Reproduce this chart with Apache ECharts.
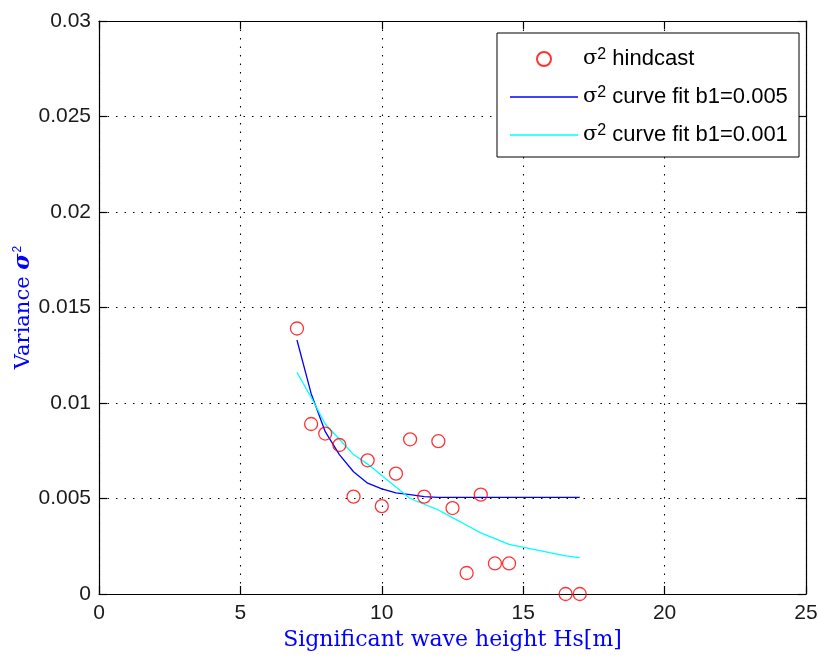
<!DOCTYPE html>
<html><head><meta charset="utf-8">
<script src="https://cdn.jsdelivr.net/npm/echarts@6/dist/echarts.min.js"></script>
<style>html,body{margin:0;padding:0;background:#fff}#c{width:818px;height:658px}</style>
</head><body><div id="c"></div>
<script>
const hsHindcast = [7, 7.5, 8, 8.5, 9, 9.5, 10, 10.5, 11, 11.5, 12, 12.5, 13, 13.5, 14, 14.5, 16.5, 17];
const varHindcast = [0.0139, 0.0089, 0.0084, 0.0078, 0.0051, 0.0070, 0.0046, 0.0063, 0.0081, 0.0051, 0.0080, 0.0045, 0.0011, 0.0052, 0.0016, 0.0016, 0, 0];
const varFitB005 = [0.0133, 0.0105, 0.0085, 0.0073, 0.0064, 0.0058, 0.0055, 0.0053, 0.0052, 0.0051, 0.00506, 0.00506, 0.00506, 0.00506, 0.00506, 0.00506, 0.00506, 0.00506];
const varFitB001 = [0.0116, 0.0103, 0.0089, 0.0081, 0.0073, 0.0068, 0.0062, 0.0056, 0.0050, 0.0047, 0.0044, 0.0040, 0.0036, 0.0032, 0.0029, 0.0026, 0.0020, 0.0019];
const xTickLabels = ['0', '5', '10', '15', '20', '25'];
const yTickLabels = ['0', '0.005', '0.01', '0.015', '0.02', '0.025', '0.03'];
const seriesNames = ['hindcast', 'curve fit b1=0.005', 'curve fit b1=0.001'];

const pair = (xs, ys) => xs.map((x, i) => [x, ys[i]]);

const chart = echarts.init(document.getElementById('c'), null, {renderer: 'canvas'});
const gridLine = () => ({show: true, lineStyle: {color: '#000', width: 1.1, type: [1.5, 7]}});
const axLine = () => ({show: true, onZero: false, lineStyle: {color: '#000', width: 1.2}});
const tick = () => ({show: true, inside: true, length: 8, lineStyle: {color: '#000', width: 1.2}});
const labelStyle = () => ({color: '#1a1a1a', fontFamily: 'Liberation Sans', fontSize: 21});
const lineIcon = 'path://M0,0H68V1.4H0Z';

chart.setOption({
  backgroundColor: '#fff',
  animation: false,
  grid: {left: 99, right: 12, top: 21, bottom: 64, containLabel: false, outerBoundsMode: 'none'},
  xAxis: [{
    type: 'value', min: 0, max: 25, interval: 5, position: 'bottom',
    axisLine: axLine(), axisTick: tick(), splitLine: gridLine(),
    axisLabel: Object.assign({margin: 9, formatter: (v, i) => xTickLabels[i]}, labelStyle()),
    name: 'Significant wave height Hs[m]', nameLocation: 'middle', nameGap: 35, nameMoveOverlap: false,
    nameTextStyle: {color: '#0000ff', fontFamily: 'DejaVu Serif', fontSize: 22}
  }, {
    type: 'value', min: 0, max: 25, interval: 5, position: 'top',
    axisLine: axLine(), axisTick: tick(), splitLine: {show: false}, axisLabel: {show: false}
  }],
  yAxis: [{
    type: 'value', min: 0, max: 0.03, interval: 0.005, position: 'left',
    axisLine: axLine(), axisTick: tick(), splitLine: gridLine(),
    axisLabel: Object.assign({margin: 8, formatter: (v, i) => yTickLabels[i]}, labelStyle()),
    name: '{t|Variance }{s|σ}{sup|2}', nameLocation: 'middle', nameGap: 64, nameRotate: 90, nameMoveOverlap: false,
    nameTextStyle: {
      color: '#0000ff', fontFamily: 'DejaVu Serif', fontSize: 21,
      rich: {
        t: {color: '#0000ff', fontFamily: 'DejaVu Serif', fontSize: 21},
        s: {color: '#0000ff', fontFamily: 'DejaVu Serif', fontWeight: 'bold', fontStyle: 'italic', fontSize: 22},
        sup: {color: '#0000ff', fontFamily: 'Liberation Sans', fontSize: 12, verticalAlign: 'bottom', padding: [0, 0, 11, 1]}
      }
    }
  }, {
    type: 'value', min: 0, max: 0.03, interval: 0.005, position: 'right',
    axisLine: axLine(), axisTick: tick(), splitLine: {show: false}, axisLabel: {show: false}
  }],
  legend: {
    orient: 'vertical', left: 497, top: 33,
    padding: [14, 8, 10, 13],
    itemWidth: 68, itemHeight: 14, itemGap: 14,
    backgroundColor: '#fff', borderColor: '#000', borderWidth: 1,
    data: [
      {name: seriesNames[0]},
      {name: seriesNames[1], icon: lineIcon},
      {name: seriesNames[2], icon: lineIcon}
    ],
    formatter: n => '{s|σ}{sup|2}{t| ' + n + '}',
    textStyle: {
      color: '#000', fontFamily: 'Liberation Sans', fontSize: 22, width: 208, lineHeight: 24,
      rich: {
        s: {fontFamily: 'DejaVu Serif', fontSize: 21, color: '#000'},
        sup: {fontFamily: 'Liberation Sans', fontSize: 16, color: '#000', verticalAlign: 'bottom', padding: [0, 0, 8, 0]},
        t: {fontFamily: 'Liberation Sans', fontSize: 22, color: '#000'}
      }
    }
  },
  series: [{
    name: seriesNames[0], type: 'scatter', data: pair(hsHindcast, varHindcast),
    symbol: 'circle', symbolSize: 13,
    itemStyle: {color: 'rgba(0,0,0,0)', borderColor: '#ff0000', borderWidth: 1.3},
    z: 3
  }, {
    name: seriesNames[1], type: 'line', data: pair(hsHindcast, varFitB005),
    showSymbol: false, symbol: 'none', color: '#0000ff',
    lineStyle: {color: '#0000ff', width: 1.3}, z: 2
  }, {
    name: seriesNames[2], type: 'line', data: pair(hsHindcast, varFitB001),
    showSymbol: false, symbol: 'none', color: '#00ffff',
    lineStyle: {color: '#00ffff', width: 1.3}, z: 2
  }]
});
</script>
</body></html>
